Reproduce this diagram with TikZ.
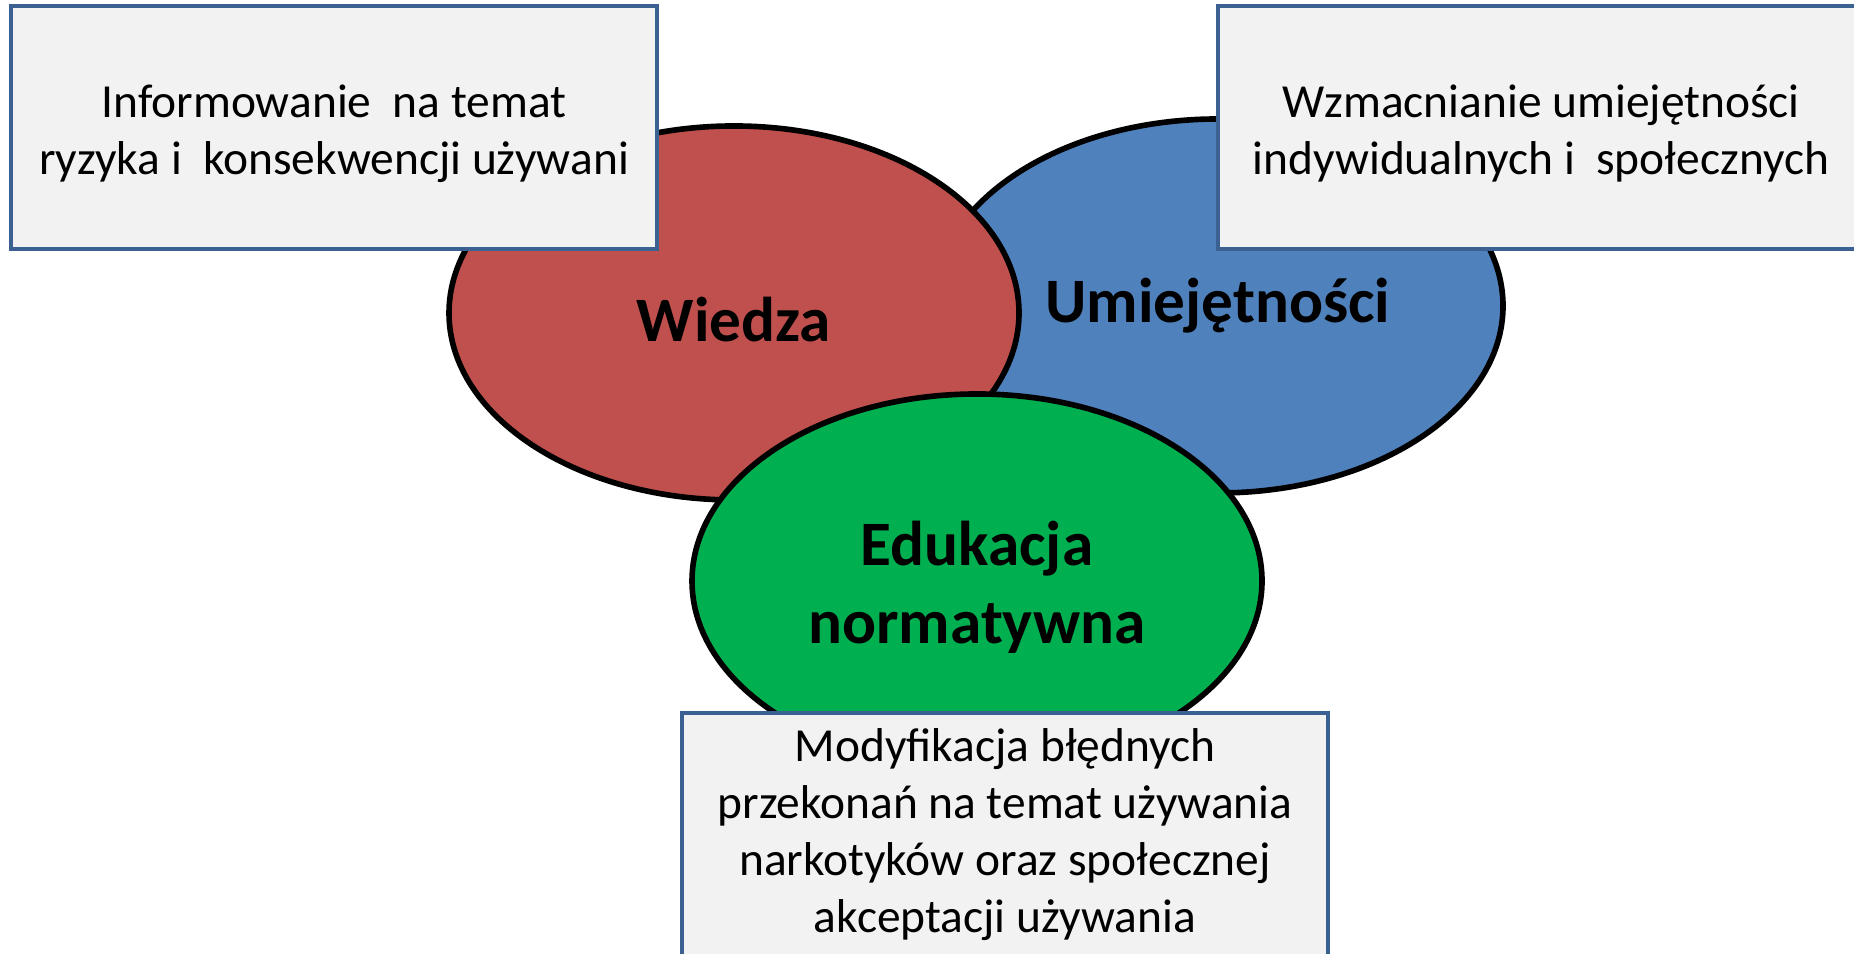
\documentclass[tikz,border=0pt]{standalone}
\usepackage{fontspec}
\setmainfont{Carlito}
\usetikzlibrary{shapes.geometric}
\definecolor{wiedzacolor}{HTML}{C0504D}
\definecolor{umiejcolor}{HTML}{4F81BD}
\definecolor{edukcolor}{HTML}{00B050}
\definecolor{boxfill}{HTML}{F2F2F2}
\definecolor{boxline}{HTML}{3A6191}
\newcommand{\lowered}[1]{\raisebox{-1.8pt}[\height][\depth]{#1}}
\tikzset{
    area/.style = {ellipse, draw=black, line width=1.6pt, minimum width=5.7cm, minimum height=3.74cm,
        inner sep=0pt, align=center, font=\fontsize{18}{22}\selectfont\bfseries},
    info box/.style = {rectangle, draw=boxline, fill=boxfill, line width=1.3pt, minimum width=6.46cm,
        minimum height=2.43cm, align=center, font=\fontsize{13.5}{16.2}\selectfont}
}

\begin{document}
\begin{tikzpicture}
        \useasboundingbox (0, 0) rectangle (18.54, 9.54);
        % draw the three ellipses
        \node[area, fill=umiejcolor] (umiejetnosci) at (12.18, 6.48) {Umiejętności};
        \node[area, fill=wiedzacolor] (wiedza) at (7.34, 6.41) {\lowered{Wiedza}};
        \node[area, fill=edukcolor] (edukacja) at (9.77, 3.73) {\lowered{Edukacja}\\\lowered{normatywna}};
        % draw text boxes
        \node[info box] (informowanie) at (3.34, 8.265)
            {\lowered{Informowanie \ na temat}\\\lowered{ryzyka i \ konsekwencji używani}};
        \node[info box] (wzmacnianie) at (15.41, 8.265)
            {\lowered{Wzmacnianie umiejętności}\\\lowered{indywidualnych i \ społecznych}};
        \node[info box] (modyfikacja) at (10.05, 1.195)
            {Modyfikacja błędnych\\przekonań na temat używania\\narkotyków oraz społecznej\\akceptacji używania};
    \end{tikzpicture}
\end{document}
